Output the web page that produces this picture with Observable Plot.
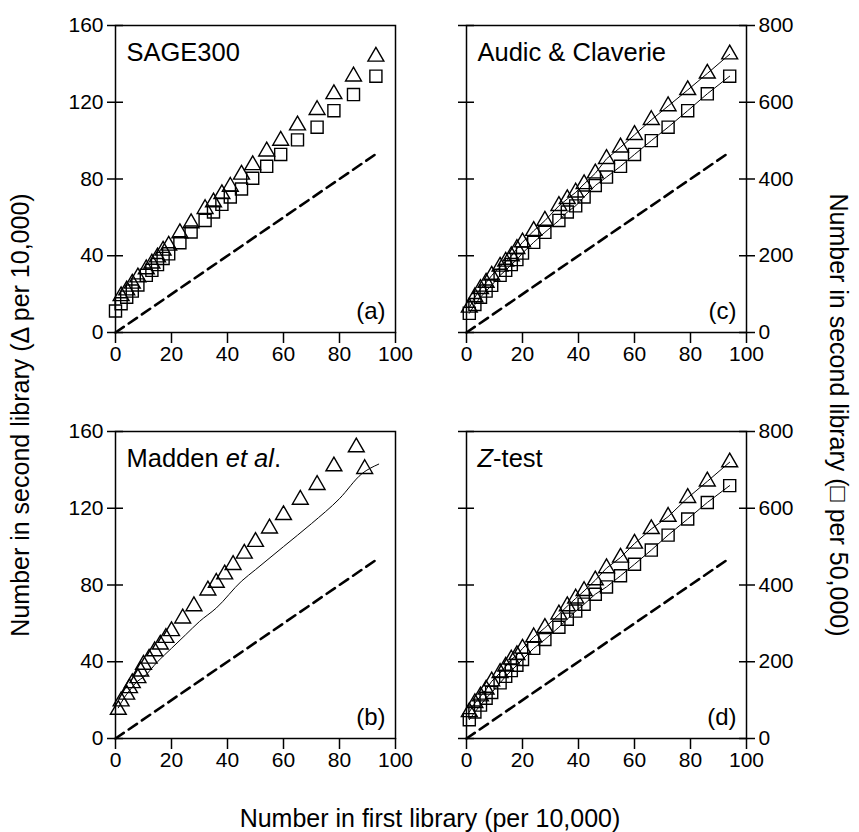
<!DOCTYPE html>
<html><head><meta charset="utf-8">
<script src="https://cdn.jsdelivr.net/npm/d3@7"></script>
<script src="https://cdn.jsdelivr.net/npm/@observablehq/plot@0.6"></script>
<style>
body{margin:0;background:#fff;}
#wrap{position:relative;width:859px;height:832px;font-family:"Liberation Sans",Arial,Helvetica,sans-serif;color:#000;overflow:hidden;}
.p{position:absolute;}
.lab{position:absolute;font-size:25px;white-space:nowrap;line-height:1;}
</style></head><body><div id="wrap"></div>
<script>
// ---- tick labels ----
const xTicks = [0, 20, 40, 60, 80, 100];
const yTicksLeft = [0, 40, 80, 120, 160];      // triangles, per 10,000
const yTicksRight = [0, 200, 400, 600, 800];   // squares, per 50,000
const diagonal = [[0, 0], [94, 94]];           // y = x reference (dashed)

// ---- panel names ----
const panelNames = ["SAGE300", "Audic & Claverie", "Madden et al.", "Z-test"];
const panelLetters = ["(a)", "(c)", "(b)", "(d)"];

// ---- (a) SAGE300 ----
const xA   = [0, 2, 4, 6, 8, 11, 13, 15, 17, 19, 23, 27, 32, 35, 38, 41, 45, 49, 54, 59, 65, 72, 78, 85, 93];
const triA = [null, 19, 22, 25.5, 28.8, 33, 36, 39.2, 42.7, 45.3, 51.8, 57, 64.4, 67.9, 72.2, 76, 82.3, 87.3, 94.4, 100, 108, 116, 124.3, 133.5, 143.8];
const sqA  = [56, 75, 92, 108, 124, 149, 162, 177, 193, 205, 234, 262, 292, 314, 334, 353, 374, 402, 433, 464, 502, 535, 578, 620, 668];

// ---- (c) Audic & Claverie ----
const xC   = [1, 3, 5, 7, 9, 12, 14, 16, 18, 20, 24, 28, 33, 36, 39, 42, 46, 50, 55, 60, 66, 72, 79, 86, 94];
const triC = [13, 18.4, 22.7, 26, 29.7, 34.4, 37, 39.8, 43.6, 47, 53, 58.3, 66, 69.6, 73, 77.4, 83, 90.5, 96.5, 103, 110.8, 118, 126.4, 135, 145];
const sqC  = [50, 73, 92, 108, 123, 149, 162, 177, 190, 207, 235, 261, 292, 314, 330, 353, 383, 405, 433, 464, 500, 535, 578, 622, 668];

// ---- (b) Madden et al. ----
const xB   = [1, 2, 4, 5, 6, 8, 9, 10, 12, 14, 16, 18, 20, 24, 28, 33, 36, 39, 42, 46, 50, 55, 60, 66, 72, 78, 86, 89];
const triB = [15, 19.4, 22.9, 26.3, 28.9, 31.5, 35, 38.5, 41.7, 45.5, 49, 52.5, 56, 62.6, 69, 77.2, 81.2, 85.6, 90.5, 96.4, 102.5, 109.5, 116.5, 124.5, 132.2, 141.9, 151.8, 140.5];
const xBline = [1, 3, 5, 8, 10, 15, 20, 25, 30, 36, 45, 50, 60, 70, 80, 88, 94];
const yBline = [16, 21, 25, 30, 32, 40, 47, 54, 61, 68, 82, 88, 100, 112, 125, 138, 143];

// ---- (d) Z-test ----
const xD   = [1, 3, 5, 7, 9, 12, 14, 16, 18, 20, 24, 28, 33, 36, 39, 42, 46, 50, 55, 60, 66, 72, 79, 86, 94];
const triD = [13.8, 18.5, 22, 25.5, 29.8, 34.2, 37.5, 41.2, 43.5, 46.9, 52.8, 57.7, 64.7, 69, 73, 76.9, 82.5, 88.8, 94.3, 101.6, 109.2, 115.6, 125.4, 134, 144];
const sqD  = [49, 69, 87, 105, 120, 145, 162, 177, 191, 206, 235, 258, 290, 311, 332, 350, 376, 395, 424, 454, 491, 530, 572, 615, 659];

// ---------------------------------------------------------------
const FONT = '"Liberation Sans", Arial, Helvetica, sans-serif';
const TICKFONT = 21;
const pts = (xs, ys, k = 1) => xs.map((x, i) => ({x, y: ys[i] == null ? null : ys[i] / k})).filter(d => d.y != null);
const diag = diagonal.map(([x, y]) => ({x, y}));

function panel({name, letter, tri, sq, line, connect, side}) {
  const left = side === "left";
  const marks = [
    Plot.line(diag, {x: "x", y: "y", stroke: "black", strokeWidth: 2.6, strokeDasharray: "10,6"}),
  ];
  if (line) marks.push(Plot.line(line, {x: "x", y: "y", stroke: "black", strokeWidth: 1, curve: "monotone-x"}));
  if (connect) {
    marks.push(Plot.line(tri, {x: "x", y: "y", stroke: "black", strokeWidth: 1}));
    if (sq) marks.push(Plot.line(sq, {x: "x", y: "y", stroke: "black", strokeWidth: 1}));
  }
  if (sq) marks.push(Plot.dot(sq, {x: "x", y: "y", symbol: "square", r: 6.8, stroke: "black", strokeWidth: 1.4, fill: "none"}));
  marks.push(Plot.dot(tri, {x: "x", y: "y", symbol: "triangle", r: 5.9, stroke: "black", strokeWidth: 1.4, fill: "none"}));
  marks.push(Plot.frame({stroke: "black", strokeWidth: 1.5}));
  marks.push(Plot.axisX(xTicks, {label: null, tickSize: 11, tickPadding: 3, strokeWidth: 1.5, fontSize: TICKFONT}));
  marks.push(Plot.axisY(yTicksLeft, {label: null, anchor: "left", tickSize: 16, dx: 8, tickPadding: 4, strokeWidth: 1.5, fontSize: TICKFONT,
    tickFormat: left ? (d => String(d)) : (() => "")}));
  if (!left) {
    marks.push(Plot.axisY(yTicksRight.map(v => v / 5), {label: null, anchor: "right", tickSize: 16, dx: -8, tickPadding: 4, strokeWidth: 1.5, fontSize: TICKFONT,
      tickFormat: d => String(d * 5)}));
  }
  marks.push(Plot.text([name], {frameAnchor: "top-left", dx: 11, dy: 17, fontSize: 25.5, textAnchor: "start", className: "ptitle"}));
  marks.push(Plot.text([letter], {frameAnchor: "bottom-right", dx: -10, dy: -14, fontSize: 24}));
  return Plot.plot({
    width: left ? 430 : 429,
    height: 372,
    marginLeft: left ? 115 : 36,
    marginRight: left ? 35 : 113,
    marginTop: 25,
    marginBottom: 40,
    x: {domain: [0, 100], label: null},
    y: {domain: [0, 160], label: null},
    style: {fontFamily: FONT, fontSize: TICKFONT + "px", color: "black", background: "white", overflow: "visible"},
    marks
  });
}

const wrap = document.getElementById("wrap");
function place(el, l, t) { el.classList.add("p"); el.style.left = l + "px"; el.style.top = t + "px"; wrap.appendChild(el); }

const pa = panel({name: panelNames[0], letter: panelLetters[0], tri: pts(xA, triA), sq: pts(xA, sqA, 5), side: "left"});
const pc = panel({name: panelNames[1], letter: panelLetters[1], tri: pts(xC, triC), sq: pts(xC, sqC, 5), connect: true, side: "right"});
const pb = panel({name: panelNames[2], letter: panelLetters[2], tri: pts(xB, triB), line: pts(xBline, yBline), side: "left"});
const pd = panel({name: panelNames[3], letter: panelLetters[3], tri: pts(xD, triD), sq: pts(xD, sqD, 5), connect: true, side: "right"});
place(pa, 0, 0); place(pc, 430, 0); place(pb, 0, 406); place(pd, 430, 406);

// italic parts of panel names
function italicize(svg, full, html) {
  svg.querySelectorAll(".ptitle text").forEach(t => { if (t.textContent === full) t.innerHTML = html; });
}
italicize(pb, "Madden et al.", 'Madden <tspan font-style="italic">et al</tspan>.');
italicize(pd, "Z-test", '<tspan font-style="italic">Z</tspan>-test');

// axis titles
const yl = document.createElement("div");
yl.className = "lab"; yl.textContent = "Number in second library (\u0394 per 10,000)";
yl.style.left = "20px"; yl.style.top = "415px"; yl.style.transform = "translate(-50%,-50%) rotate(-90deg)";
wrap.appendChild(yl);
const yr = document.createElement("div");
yr.className = "lab"; yr.textContent = "Number in second library (\u25A1 per 50,000)";
yr.style.left = "838px"; yr.style.top = "415px"; yr.style.transform = "translate(-50%,-50%) rotate(90deg)";
wrap.appendChild(yr);
const xl = document.createElement("div");
xl.className = "lab"; xl.textContent = "Number in first library (per 10,000)";
xl.style.left = "430px"; xl.style.top = "818px"; xl.style.transform = "translate(-50%,-50%)";
wrap.appendChild(xl);
</script></body></html>
